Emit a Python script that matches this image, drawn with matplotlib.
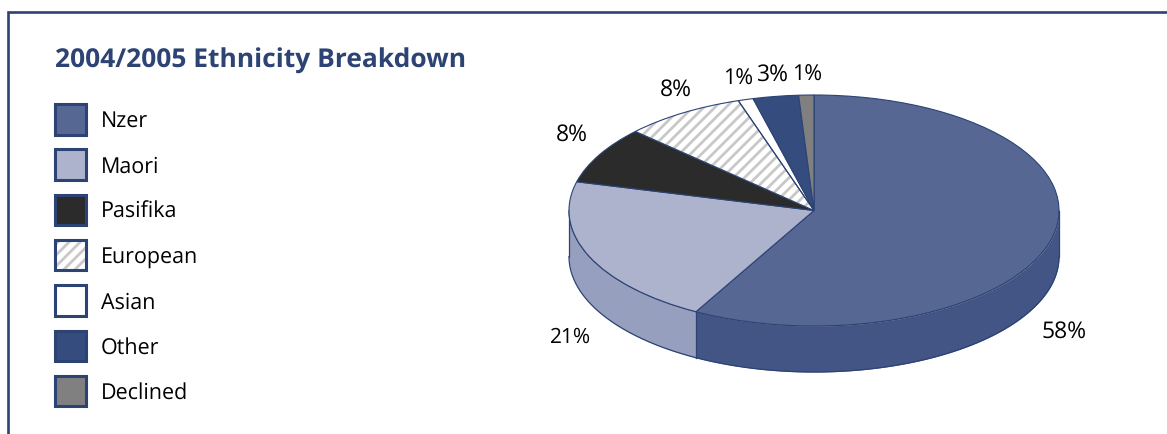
import numpy as np
import matplotlib
matplotlib.use('Agg')
import matplotlib.pyplot as plt
from matplotlib.patches import Rectangle, Wedge

plt.rcParams['font.family'] = ['Open Sans', 'DejaVu Sans']
plt.rcParams['hatch.linewidth'] = 2.0
plt.rcParams['text.hinting'] = 'no_hinting'

categories = ['Nzer', 'Maori', 'Pasifika', 'European', 'Asian', 'Other', 'Declined']
percentages = [58, 21, 8, 8, 1, 3, 1]
title = '2004/2005 Ethnicity Breakdown'

NAVY = '#2c4374'
HATCH_GREY = '#c8c8c8'
top_colors = ['#566794', '#adb2cd', '#2b2b2b', 'white', 'white', '#354c7f', '#808080']
wall_colors = {'Nzer': '#435585', 'Maori': '#969fbe'}

# pie geometry in pixels
WIDTH, HEIGHT = 1167, 435
CX, CY = 814, 211.5
RX, RY = 245, 115.5
DEPTH = 46 / RY

# label anchor points and sizes, same order as categories
label_xy = [(1064, 332), (571, 337), (572, 135), (676, 90), (738, 79), (773, 75), (807, 75)]
label_size = [16.5, 15, 16.5, 16.5, 15.5, 16.5, 15.5]

fig = plt.figure(figsize=(WIDTH / 100, HEIGHT / 100), dpi=100)

# background axes in pixel coordinates for frame, title, legend and labels
bg = fig.add_axes([0, 0, 1, 1], zorder=0)
bg.set_xlim(0, WIDTH)
bg.set_ylim(HEIGHT, 0)
bg.axis('off')

bg.plot([8, 8, WIDTH], [HEIGHT, 13, 13], color=NAVY, lw=1.9, solid_joinstyle='miter')
bg.text(55, 61.5, title, fontsize=19, fontweight='bold', color=NAVY, ha='left', va='center')

for i, (name, color) in enumerate(zip(categories, top_colors)):
    y = 105 + i * 45.3
    if name == 'European':
        bg.add_patch(Rectangle((55, y), 30.5, 30.5, facecolor='white', edgecolor=HATCH_GREY,
                               hatch='///', lw=0))
        color = 'none'
    bg.add_patch(Rectangle((55, y), 30.5, 30.5, facecolor=color, edgecolor=NAVY, lw=2.2))
    bg.text(101, y + 16.5, name, fontsize=15.5, color='black', ha='left', va='center')

# pie axes, scaled so that one data unit is RX by RY pixels
ax = fig.add_axes([0, 0, 1, 1], zorder=1)
wedges, _ = ax.pie(percentages, colors=top_colors, startangle=90, counterclock=False,
                   wedgeprops={'edgecolor': NAVY, 'linewidth': 0.8})
ax.set_aspect('auto')
ax.set_xlim(-CX / RX, (WIDTH - CX) / RX)
ax.set_ylim((CY - HEIGHT) / RY, CY / RY)

# hatched slice: hatch follows the edge colour, so the outline goes on a second patch
hatched = wedges[categories.index('European')]
hatched.set(edgecolor=HATCH_GREY, hatch='///', linewidth=0)
ax.add_patch(Wedge(hatched.center, hatched.r, hatched.theta1, hatched.theta2,
                   facecolor='none', edgecolor=NAVY, linewidth=0.8))

# side wall of the disc, only the slices facing the viewer
for wedge, name in zip(wedges, categories):
    if name not in wall_colors:
        continue
    t = np.radians(np.linspace(wedge.theta1, wedge.theta2, 200))
    x = np.cos(t)
    y = np.sin(t)
    keep = y <= 0
    ax.fill_between(x[keep], y[keep], y[keep] - DEPTH, color=wall_colors[name], lw=0, zorder=0)
    ax.plot(x[keep], y[keep] - DEPTH, color=NAVY, lw=0.9, zorder=0.5)
    ax.plot(x[keep], y[keep], color=NAVY, lw=0.8, zorder=0.5)

# vertical wall edges at the rim and at the slice boundary
for angle in [0.0, 180.0, 90.0 - 360.0 * percentages[0] / sum(percentages)]:
    x0, y0 = np.cos(np.radians(angle)), np.sin(np.radians(angle))
    ax.plot([x0, x0], [y0, y0 - DEPTH], color=NAVY, lw=0.9, zorder=0.5)

for value, (lx, ly), size in zip(percentages, label_xy, label_size):
    bg.text(lx, ly, f'{value}%', fontsize=size, color='black', ha='center', va='center')

fig.savefig('out.png', dpi=100)
